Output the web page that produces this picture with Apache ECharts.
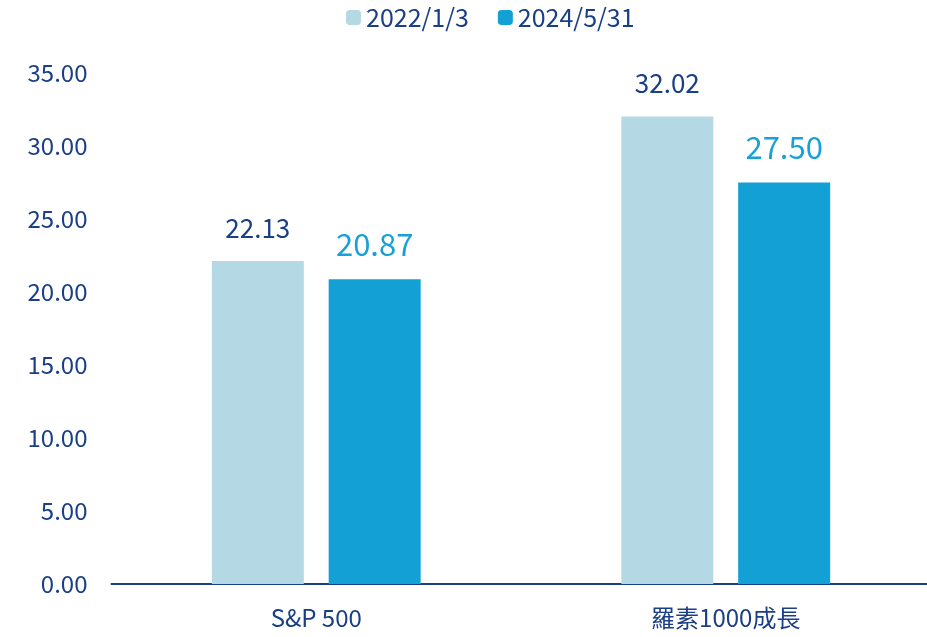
<!DOCTYPE html>
<html>
<head>
<meta charset="utf-8">
<script src="https://cdn.jsdelivr.net/npm/echarts@6/dist/echarts.min.js"></script>
<style>
  html, body { margin: 0; padding: 0; background: #fff; }
  #chart { width: 927px; height: 637px; }
</style>
</head>
<body>
<div id="chart"></div>
<script>
// Chart data
const categories = ['S&P 500', '羅素1000成長'];
const seriesNames = ['2022/1/3', '2024/5/31'];
const valuesJan2022 = [22.13, 32.02];
const valuesMay2024 = [20.87, 27.50];

const NAVY = '#1a3f86';
const FONT = '"Noto Sans CJK TC", "Noto Sans", sans-serif';

const chart = echarts.init(document.getElementById('chart'));

const option = {
    animation: false,
    textStyle: { fontFamily: FONT },
    legend: {
        top: 5,
        left: 346,
        padding: 0,
        itemWidth: 15,
        itemHeight: 15,
        itemGap: 29,
        textStyle: { fontSize: 25, color: NAVY, fontFamily: FONT },
        data: seriesNames
    },
    grid: { left: 111.5, right: -3.5, top: 73, bottom: 53, outerBoundsMode: 'none' },
    xAxis: {
        type: 'category',
        data: categories,
        axisLine: { lineStyle: { color: NAVY, width: 2 } },
        axisTick: { show: false },
        axisLabel: { fontSize: 24, color: NAVY, margin: 22, fontFamily: FONT }
    },
    yAxis: {
        type: 'value',
        min: 0,
        max: 35,
        interval: 5,
        splitLine: { show: false },
        axisLine: { show: false },
        axisTick: { show: false },
        axisLabel: {
            fontSize: 24, color: NAVY, margin: 24, fontFamily: FONT,
            formatter: v => v.toFixed(2)
        }
    },
    series: [
        {
            name: seriesNames[0],
            type: 'bar',
            data: valuesJan2022,
            barWidth: 92,
            barGap: '27%',
            itemStyle: { color: '#b4d9e4' },
            label: {
                show: true, position: 'top', distance: 20,
                fontSize: 26, color: NAVY, fontFamily: FONT,
                formatter: p => p.value.toFixed(2)
            }
        },
        {
            name: seriesNames[1],
            type: 'bar',
            data: valuesMay2024,
            barWidth: 92,
            itemStyle: { color: '#13a0d5' },
            label: {
                show: true, position: 'top', distance: 20,
                fontSize: 31, color: '#1aa0d8', fontFamily: FONT,
                formatter: p => p.value.toFixed(2)
            }
        }
    ]
};

chart.setOption(option);
</script>
</body>
</html>
